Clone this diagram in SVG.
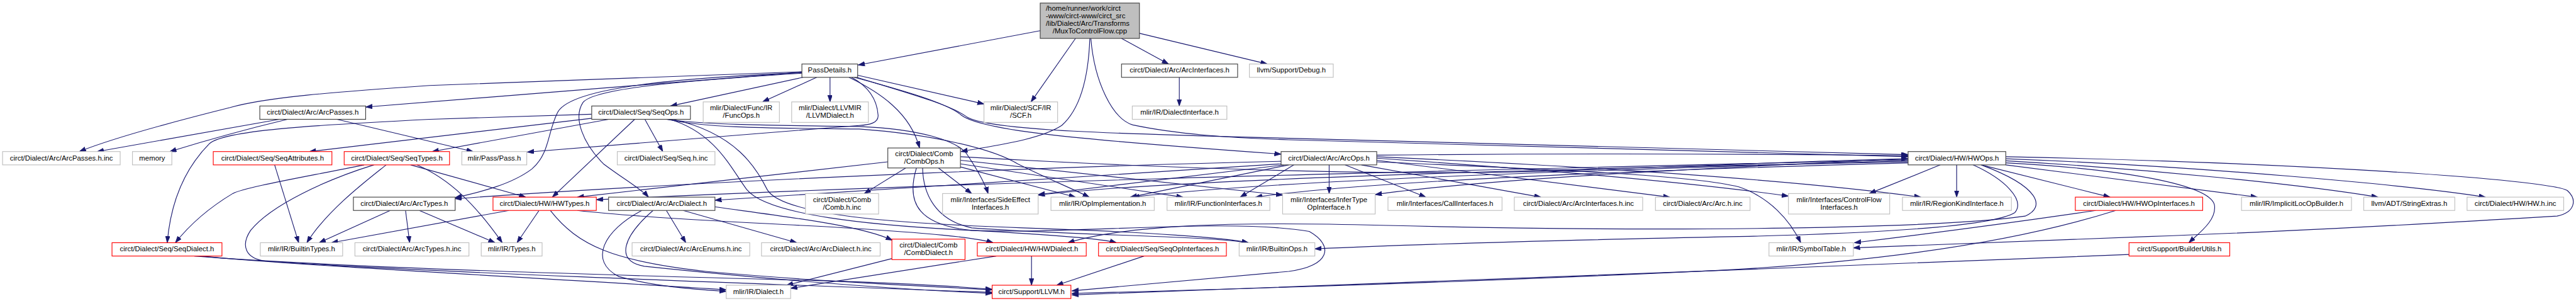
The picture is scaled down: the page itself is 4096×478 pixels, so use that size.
<svg xmlns="http://www.w3.org/2000/svg" width="4096" height="478" viewBox="0 0 4096 478">
<style>
rect{fill:#fff;stroke-width:1.4}
.doc{stroke:#404040}
.ext{stroke:#bfbfbf}
.tr{stroke:#ff0000}
.main{fill:#bfbfbf;stroke:#404040}
text{font-family:"Liberation Sans",Arial,Helvetica,sans-serif;font-size:14px;fill:#000;text-anchor:middle}
text.s{text-anchor:start}
#edges path{fill:none;stroke:#191970;stroke-width:1.4;marker-end:url(#ah)}
</style>
<defs>
<marker id="ah" markerUnits="userSpaceOnUse" markerWidth="14" markerHeight="10" refX="13" refY="4.5" orient="auto">
<path d="M0,0 L13,4.5 L0,9 z" fill="#191970" stroke="#191970" stroke-width="1"/>
</marker>
</defs>
<rect x="0" y="0" width="4096" height="478" style="fill:#fff;stroke:none"/>
<g transform="scale(0.81318)">
<g id="edges">
<path d="M2034,60 L1678,127"/>
<path d="M2103,75 L2016,199"/>
<path d="M2131,75 C2128,160 2110,215 2076,245 C2030,275 1930,286 1879,296"/>
<path d="M2193,75 L2285,125"/>
<path d="M2228,65 L2478,125"/>
<path d="M2133,75 C2140,160 2175,232 2215,244 C2300,262 2400,269 2520,273 L3731,306"/>
<path d="M1568,140 L840,167 C650,180 520,190 450,210 C330,240 220,270 155,296"/>
<path d="M1568,141 L715,209"/>
<path d="M1570,151 L1311,207"/>
<path d="M1597,151 L1491,199"/>
<path d="M1623,151 L1623,199"/>
<path d="M1677,147 L1924,203"/>
<path d="M1660,151 C1720,180 1780,220 1798,289"/>
<path d="M1670,151 C1760,175 1850,200 1880,225 C1920,255 2100,272 2505,301"/>
<path d="M1675,151 C1770,180 1860,205 1890,228 C1930,255 2200,262 2520,270 L3731,302"/>
<path d="M1665,151 C1700,170 1715,195 1717,225 C1718,240 1700,244 1680,245 L1031,297"/>
<path d="M1568,143 C1300,160 1160,175 1140,200 C1120,230 1140,280 1180,320 C1220,350 1255,370 1268,385"/>
<path d="M1568,142 C1250,155 1110,180 1090,220 C1070,260 1075,300 1040,330 C1000,360 940,375 890,386"/>
<path d="M2306,151 L2306,207"/>
<path d="M546,233 L190,296"/>
<path d="M562,233 C470,255 400,275 332,296"/>
<path d="M659,233 L925,296"/>
<path d="M1157,223 L840,233 C600,245 440,255 410,280 C370,320 335,380 327,474"/>
<path d="M1157,231 L605,296"/>
<path d="M1190,233 L845,296"/>
<path d="M1241,233 L1080,385"/>
<path d="M1261,233 L1296,296"/>
<path d="M1303,233 C1370,243 1500,245 1680,247 C1800,252 1870,275 1890,300 C1910,330 1925,355 1932,378"/>
<path d="M1305,233 C1380,250 1500,250 1680,252 C1820,262 1940,290 1990,320 C2040,345 2100,370 2130,385"/>
<path d="M1310,233 C1400,260 1430,330 1460,370 C1500,420 1700,440 1900,450 C2050,458 2150,465 2183,474"/>
<path d="M1315,233 C1440,260 1480,330 1500,370 C1530,425 1800,438 2000,445 C2250,453 2400,465 2441,474"/>
<path d="M537,322 L584,474"/>
<path d="M712,322 C600,345 480,365 455,378 C410,405 370,440 343,474"/>
<path d="M755,322 C720,350 640,410 600,474"/>
<path d="M731,322 C640,350 530,400 490,450 C470,480 480,505 520,510 C800,530 1500,555 1940,571"/>
<path d="M803,322 L1028,385"/>
<path d="M815,322 C880,350 930,400 982,474"/>
<path d="M763,411 L624,474"/>
<path d="M793,411 L801,474"/>
<path d="M820,411 L968,474"/>
<path d="M995,411 L648,474"/>
<path d="M1054,411 L1011,474"/>
<path d="M1076,411 C1130,480 1200,510 1380,530 C1600,550 1800,558 1940,566"/>
<path d="M1129,411 C1300,430 1600,440 1700,448 C1800,455 1900,462 1942,474"/>
<path d="M1303,411 L1341,474"/>
<path d="M1336,411 L1558,474"/>
<path d="M1255,411 C1180,450 1150,510 1210,540 C1280,560 1360,565 1420,569"/>
<path d="M1277,411 C1220,460 1200,510 1260,520 C1500,545 1750,565 1940,573"/>
<path d="M1398,404 C1550,425 1680,440 1745,469"/>
<path d="M1771,328 L1690,378"/>
<path d="M1835,328 L1900,378"/>
<path d="M1878,326 L2103,385"/>
<path d="M1878,320 L2313,385"/>
<path d="M1878,313 L2508,381"/>
<path d="M1736,316 L1129,385"/>
<path d="M1804,328 C1805,380 1830,430 1900,445 C2100,460 2350,460 2441,474"/>
<path d="M1792,328 C1770,400 1800,440 1900,450 C2100,458 2400,425 2560,452 C2610,480 2600,520 2520,530 L2096,568"/>
<path d="M1878,306 C2300,330 2700,342 3000,335 C3300,325 3600,312 3731,310"/>
<path d="M2599,322 L2599,378"/>
<path d="M2630,322 L2788,385"/>
<path d="M2662,322 L3013,385"/>
<path d="M2692,313 L3265,385"/>
<path d="M2692,309 C3000,330 3300,355 3497,383"/>
<path d="M2692,306 C3100,325 3500,350 3756,385"/>
<path d="M2692,316 C3000,330 3300,340 3400,365 C3460,385 3500,430 3521,474"/>
<path d="M2505,320 L1398,391"/>
<path d="M2505,315 C2200,322 1500,345 890,388"/>
<path d="M2510,322 L2030,380"/>
<path d="M2520,322 L2210,385"/>
<path d="M2530,322 L2425,385"/>
<path d="M2692,303 C3000,300 3400,300 3731,304"/>
<path d="M3794,322 L3655,378"/>
<path d="M3826,322 L3826,385"/>
<path d="M3922,306 C4500,318 4980,350 5020,372 C5040,390 5035,415 5000,422 C4700,440 4400,455 4200,462 C3950,470 3750,478 3624,484"/>
<path d="M4098,411 C3900,440 3700,465 3626,474"/>
<path d="M3858,322 C3920,350 3960,390 3940,415 C3900,440 3700,455 3400,462 C3000,470 2700,480 2571,486"/>
<path d="M3874,322 C3990,365 4000,405 3960,422 C3800,445 3300,455 2700,440 C2400,432 2200,440 2088,474"/>
<path d="M3874,322 L4126,385"/>
<path d="M3922,322 L4414,385"/>
<path d="M3922,314 C4200,330 4500,360 4650,385"/>
<path d="M3922,310 C4300,325 4700,360 4860,385"/>
<path d="M3922,318 C4150,330 4320,360 4330,400 C4335,430 4300,455 4280,474"/>
<path d="M3731,312 C3000,330 2000,350 1166,390"/>
<path d="M3731,318 C3300,330 2700,350 2455,385"/>
<path d="M3731,314 C3200,330 2500,350 2215,385"/>
<path d="M3731,316 C3000,330 2300,350 2030,381"/>
<path d="M3731,310 C3300,330 2900,350 2689,380"/>
<path d="M4163,497 C3500,525 2600,555 2096,576"/>
<path d="M4137,411 C3950,470 3700,510 3360,528 C2900,550 2400,565 2096,573"/>
<path d="M1744,505 L1538,557"/>
<path d="M1948,500 L1546,563"/>
<path d="M2017,500 L2017,557"/>
<path d="M2237,500 L2066,557"/>
<path d="M391,500 C600,520 1100,545 1420,566"/>
<path d="M380,500 C700,525 1300,540 1600,548 C1800,554 1880,560 1940,565"/>
</g>
<g id="n0"><rect class="main" x="2034" y="6" width="194" height="69"/><text class="s" x="2045" y="21.5">/home/runner/work/circt</text><text class="s" x="2045" y="36">-www/circt-www/circt_src</text><text class="s" x="2045" y="50.5">/lib/Dialect/Arc/Transforms</text><text x="2131" y="65">/MuxToControlFlow.cpp</text></g>
<g id="n1"><rect class="doc" x="1568" y="125" width="109" height="26"/><text x="1622.5" y="142">PassDetails.h</text></g>
<g id="n2"><rect class="doc" x="2193" y="125" width="227" height="26"/><text x="2306.5" y="142">circt/Dialect/Arc/ArcInterfaces.h</text></g>
<g id="n3"><rect class="ext" x="2443" y="125" width="164" height="26"/><text x="2525" y="142">llvm/Support/Debug.h</text></g>
<g id="n4"><rect class="doc" x="508" y="207" width="207" height="26"/><text x="611.5" y="224">circt/Dialect/Arc/ArcPasses.h</text></g>
<g id="n5"><rect class="doc" x="1157" y="207" width="193" height="26"/><text x="1253.5" y="224">circt/Dialect/Seq/SeqOps.h</text></g>
<g id="n6"><rect class="ext" x="1375" y="199" width="149" height="40"/><text x="1449.5" y="215.5">mlir/Dialect/Func/IR</text><text x="1449.5" y="230">/FuncOps.h</text></g>
<g id="n7"><rect class="ext" x="1548" y="199" width="150" height="40"/><text x="1623" y="215.5">mlir/Dialect/LLVMIR</text><text x="1623" y="230">/LLVMDialect.h</text></g>
<g id="n8"><rect class="ext" x="1924" y="199" width="144" height="40"/><text x="1996" y="215.5">mlir/Dialect/SCF/IR</text><text x="1996" y="230">/SCF.h</text></g>
<g id="n9"><rect class="ext" x="2214" y="207" width="185" height="26"/><text x="2306.5" y="224">mlir/IR/DialectInterface.h</text></g>
<g id="n10"><rect class="ext" x="5" y="296" width="230" height="26"/><text x="120" y="313">circt/Dialect/Arc/ArcPasses.h.inc</text></g>
<g id="n11"><rect class="ext" x="259" y="296" width="77" height="26"/><text x="297.5" y="313">memory</text></g>
<g id="n12"><rect class="tr" x="417" y="296" width="232" height="26"/><text x="533" y="313">circt/Dialect/Seq/SeqAttributes.h</text></g>
<g id="n13"><rect class="tr" x="673" y="296" width="206" height="26"/><text x="776" y="313">circt/Dialect/Seq/SeqTypes.h</text></g>
<g id="n14"><rect class="ext" x="903" y="296" width="127" height="26"/><text x="966.5" y="313">mlir/Pass/Pass.h</text></g>
<g id="n15"><rect class="ext" x="1207" y="296" width="191" height="26"/><text x="1302.5" y="313">circt/Dialect/Seq/Seq.h.inc</text></g>
<g id="n16"><rect class="doc" x="1736" y="289" width="142" height="39"/><text x="1807" y="305.5">circt/Dialect/Comb</text><text x="1807" y="320">/CombOps.h</text></g>
<g id="n17"><rect class="doc" x="2505" y="296" width="187" height="26"/><text x="2598.5" y="313">circt/Dialect/Arc/ArcOps.h</text></g>
<g id="n18"><rect class="doc" x="3731" y="296" width="191" height="26"/><text x="3826.5" y="313">circt/Dialect/HW/HWOps.h</text></g>
<g id="n19"><rect class="doc" x="691" y="385" width="199" height="26"/><text x="790.5" y="402">circt/Dialect/Arc/ArcTypes.h</text></g>
<g id="n20"><rect class="tr" x="964" y="385" width="202" height="26"/><text x="1065" y="402">circt/Dialect/HW/HWTypes.h</text></g>
<g id="n21"><rect class="doc" x="1190" y="385" width="208" height="26"/><text x="1294" y="402">circt/Dialect/Arc/ArcDialect.h</text></g>
<g id="n22"><rect class="ext" x="1575" y="378" width="143" height="40"/><text x="1646.5" y="394.5">circt/Dialect/Comb</text><text x="1646.5" y="409">/Comb.h.inc</text></g>
<g id="n23"><rect class="ext" x="1843" y="378" width="187" height="40"/><text x="1936.5" y="394.5">mlir/Interfaces/SideEffect</text><text x="1936.5" y="409">Interfaces.h</text></g>
<g id="n24"><rect class="ext" x="2055" y="385" width="202" height="26"/><text x="2156" y="402">mlir/IR/OpImplementation.h</text></g>
<g id="n25"><rect class="ext" x="2282" y="385" width="201" height="26"/><text x="2382.5" y="402">mlir/IR/FunctionInterfaces.h</text></g>
<g id="n26"><rect class="ext" x="2508" y="378" width="181" height="40"/><text x="2598.5" y="394.5">mlir/Interfaces/InferType</text><text x="2598.5" y="409">OpInterface.h</text></g>
<g id="n27"><rect class="ext" x="2714" y="385" width="223" height="26"/><text x="2825.5" y="402">mlir/Interfaces/CallInterfaces.h</text></g>
<g id="n28"><rect class="ext" x="2961" y="385" width="251" height="26"/><text x="3086.5" y="402">circt/Dialect/Arc/ArcInterfaces.h.inc</text></g>
<g id="n29"><rect class="ext" x="3237" y="385" width="185" height="26"/><text x="3329.5" y="402">circt/Dialect/Arc/Arc.h.inc</text></g>
<g id="n30"><rect class="ext" x="3497" y="378" width="198" height="40"/><text x="3596" y="394.5">mlir/Interfaces/ControlFlow</text><text x="3596" y="409">Interfaces.h</text></g>
<g id="n31"><rect class="ext" x="3720" y="385" width="213" height="26"/><text x="3826.5" y="402">mlir/IR/RegionKindInterface.h</text></g>
<g id="n32"><rect class="tr" x="4058" y="385" width="249" height="26"/><text x="4182.5" y="402">circt/Dialect/HW/HWOpInterfaces.h</text></g>
<g id="n33"><rect class="ext" x="4383" y="385" width="215" height="26"/><text x="4490.5" y="402">mlir/IR/ImplicitLocOpBuilder.h</text></g>
<g id="n34"><rect class="ext" x="4622" y="385" width="178" height="26"/><text x="4711" y="402">llvm/ADT/StringExtras.h</text></g>
<g id="n35"><rect class="ext" x="4824" y="385" width="189" height="26"/><text x="4918.5" y="402">circt/Dialect/HW/HW.h.inc</text></g>
<g id="n36"><rect class="tr" x="219" y="474" width="215" height="26"/><text x="326.5" y="491">circt/Dialect/Seq/SeqDialect.h</text></g>
<g id="n37"><rect class="ext" x="509" y="474" width="161" height="26"/><text x="589.5" y="491">mlir/IR/BuiltinTypes.h</text></g>
<g id="n38"><rect class="ext" x="694" y="474" width="223" height="26"/><text x="805.5" y="491">circt/Dialect/Arc/ArcTypes.h.inc</text></g>
<g id="n39"><rect class="ext" x="941" y="474" width="119" height="26"/><text x="1000.5" y="491">mlir/IR/Types.h</text></g>
<g id="n40"><rect class="ext" x="1236" y="474" width="230" height="26"/><text x="1351" y="491">circt/Dialect/Arc/ArcEnums.h.inc</text></g>
<g id="n41"><rect class="ext" x="1489" y="474" width="232" height="26"/><text x="1605" y="491">circt/Dialect/Arc/ArcDialect.h.inc</text></g>
<g id="n42"><rect class="tr" x="1744" y="467" width="143" height="40"/><text x="1815.5" y="483.5">circt/Dialect/Comb</text><text x="1815.5" y="498">/CombDialect.h</text></g>
<g id="n43"><rect class="tr" x="1911" y="474" width="213" height="26"/><text x="2017.5" y="491">circt/Dialect/HW/HWDialect.h</text></g>
<g id="n44"><rect class="tr" x="2148" y="474" width="250" height="26"/><text x="2273" y="491">circt/Dialect/Seq/SeqOpInterfaces.h</text></g>
<g id="n45"><rect class="ext" x="2423" y="474" width="148" height="26"/><text x="2497" y="491">mlir/IR/BuiltinOps.h</text></g>
<g id="n46"><rect class="ext" x="3459" y="474" width="165" height="26"/><text x="3541.5" y="491">mlir/IR/SymbolTable.h</text></g>
<g id="n47"><rect class="tr" x="4163" y="474" width="197" height="26"/><text x="4261.5" y="491">circt/Support/BuilderUtils.h</text></g>
<g id="n48"><rect class="ext" x="1420" y="557" width="126" height="26"/><text x="1483" y="574">mlir/IR/Dialect.h</text></g>
<g id="n49"><rect class="tr" x="1940" y="557" width="154" height="26"/><text x="2017" y="574">circt/Support/LLVM.h</text></g>
</g>
</svg>
